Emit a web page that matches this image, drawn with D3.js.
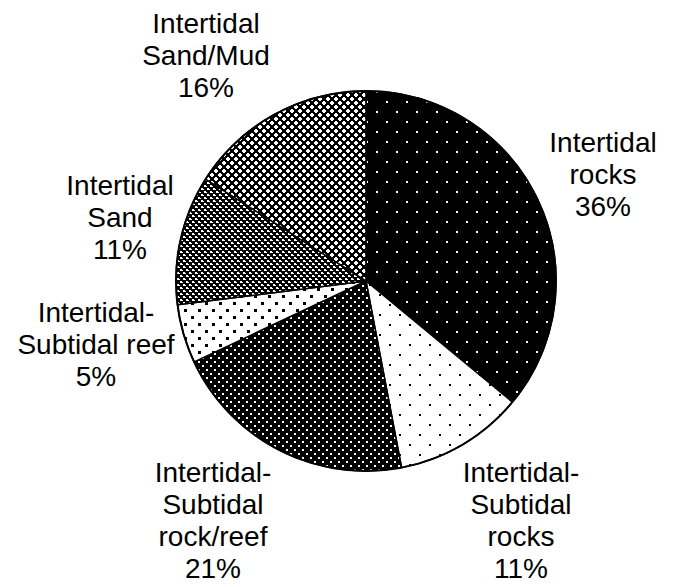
<!DOCTYPE html>
<html>
<head>
<meta charset="utf-8">
<script src="https://cdn.jsdelivr.net/npm/d3@7"></script>
<style>
  html, body { margin: 0; padding: 0; background: #fff; }
  svg { display: block; }
  text { font-family: "Liberation Sans", Arial, sans-serif; fill: #000; }
</style>
</head>
<body>
<svg id="chart" width="673" height="587"></svg>
<script>
// ---- data (clockwise from 12 o'clock) ----
const categories = [
  "Intertidal rocks",
  "Intertidal-Subtidal rocks",
  "Intertidal-Subtidal rock/reef",
  "Intertidal-Subtidal reef",
  "Intertidal Sand",
  "Intertidal Sand/Mud"
];
const values = [36, 11, 21, 5, 11, 16];
const labelLines = [
  ["Intertidal", "rocks", "36%"],
  ["Intertidal-", "Subtidal", "rocks", "11%"],
  ["Intertidal-", "Subtidal", "rock/reef", "21%"],
  ["Intertidal-", "Subtidal reef", "5%"],
  ["Intertidal", "Sand", "11%"],
  ["Intertidal", "Sand/Mud", "16%"]
];
const patternIds = ["p-rocks", "p-srocks", "p-rockreef", "p-reef", "p-sand", "p-sandmud"];

// ---- layout ----
const cx = 366, cy = 281, R = 190;
const labelPos = [
  {x: 603, y: 152},
  {x: 521, y: 482},
  {x: 213, y: 482},
  {x: 96,  y: 322},
  {x: 120, y: 195},
  {x: 206, y: 33}
];
const lineH = 32;

const svg = d3.select("#chart");
const defs = svg.append("defs");

function dotPattern(id, size, bg, fg, dot, pts) {
  const p = defs.append("pattern").attr("id", id)
    .attr("patternUnits", "userSpaceOnUse")
    .attr("width", size).attr("height", size);
  p.append("rect").attr("width", size).attr("height", size).attr("fill", bg);
  pts.forEach(([x, y]) => p.append("rect").attr("x", x).attr("y", y)
    .attr("width", dot).attr("height", dot).attr("fill", fg)
    .attr("shape-rendering", "crispEdges"));
}
function shapePattern(id, size, bg, fg, pixels) {
  const p = defs.append("pattern").attr("id", id)
    .attr("patternUnits", "userSpaceOnUse")
    .attr("width", size).attr("height", size);
  p.append("rect").attr("width", size).attr("height", size).attr("fill", bg);
  pixels.forEach(([x, y]) => p.append("rect").attr("x", x).attr("y", y)
    .attr("width", 1).attr("height", 1).attr("fill", fg)
    .attr("shape-rendering", "crispEdges"));
}
function shapeAt(shape, ox, oy) { return shape.map(([x, y]) => [x + ox, y + oy]); }

dotPattern("p-rocks", 20, "#000", "#fff", 2, [[0, 0], [10, 10]]);
dotPattern("p-srocks", 20, "#fff", "#000", 2, [[3, 3], [13, 13]]);
dotPattern("p-rockreef", 8, "#000", "#fff", 2, [[0, 0], [4, 4]]);
dotPattern("p-reef", 14, "#fff", "#000", 3, [[0, 0], [7, 7]]);

const sq2 = [[0, 0], [1, 0], [0, 1], [1, 1], [2, 1]];
shapePattern("p-sand", 6, "#000", "#fff", [...shapeAt(sq2, 0, 0), ...shapeAt(sq2, 3, 3)]);

const cross4 = [[1,0],[2,0],[0,1],[1,1],[2,1],[3,1],[0,2],[1,2],[2,2],[3,2],[1,3],[2,3]];
shapePattern("p-sandmud", 8, "#000", "#fff", [...shapeAt(cross4, 0, 0), ...shapeAt(cross4, 4, 4)]);

const pie = d3.pie().sort(null).value(d => d).startAngle(0).endAngle(2 * Math.PI);
const arcs = pie(values);
const arc = d3.arc().innerRadius(0).outerRadius(R);

const g = svg.append("g").attr("transform", `translate(${cx},${cy})`);
g.selectAll("path.slice").data(arcs).join("path")
  .attr("class", "slice")
  .attr("d", arc)
  .attr("fill", (d, i) => `url(#${patternIds[i]})`)
  .attr("stroke", "#000")
  .attr("stroke-width", 1.5)
  .attr("stroke-linejoin", "round");

g.append("circle").attr("r", R).attr("fill", "none")
  .attr("stroke", "#000").attr("stroke-width", 2);

const labels = svg.append("g");
labelLines.forEach((lines, i) => {
  const t = labels.append("text")
    .attr("text-anchor", "middle")
    .attr("font-size", 28)
    .attr("x", labelPos[i].x).attr("y", labelPos[i].y);
  lines.forEach((ln, k) => {
    t.append("tspan").attr("x", labelPos[i].x)
      .attr("y", labelPos[i].y + k * lineH).text(ln);
  });
});
</script>
</body>
</html>
